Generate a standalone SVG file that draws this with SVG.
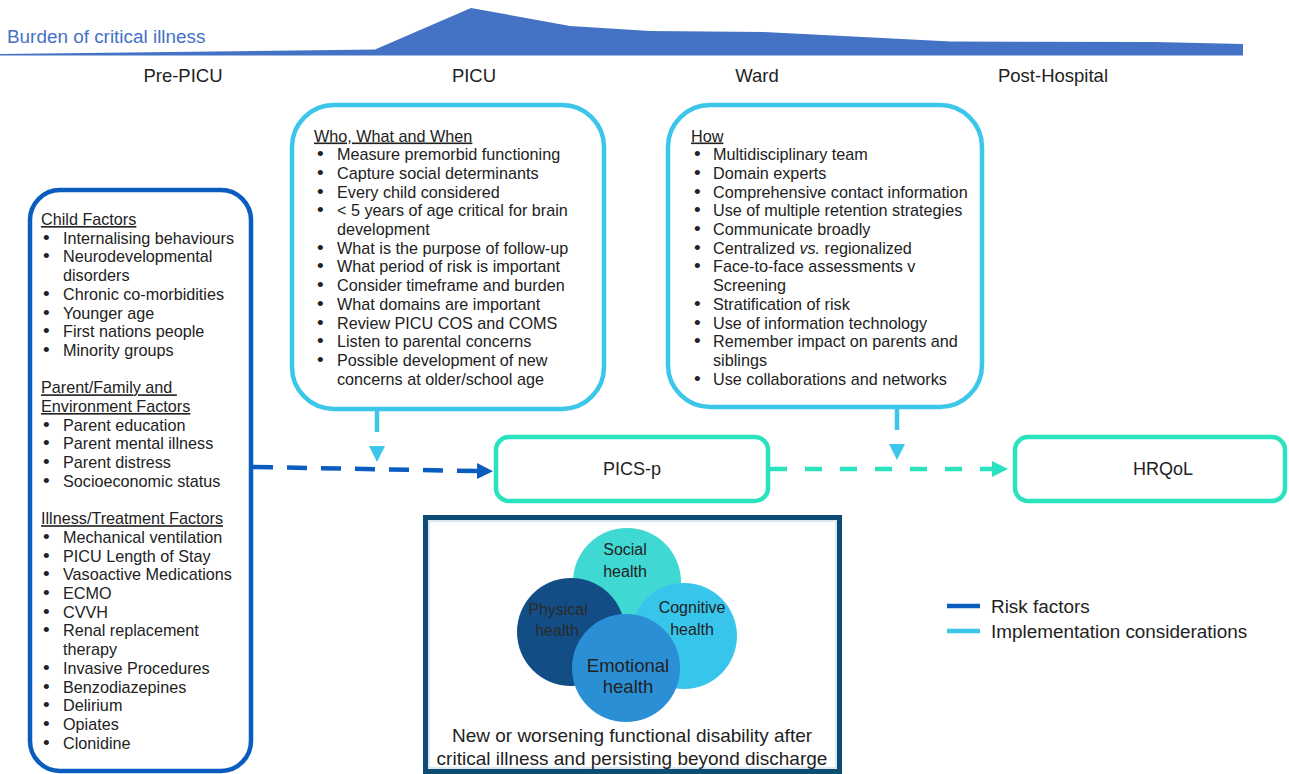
<svg xmlns="http://www.w3.org/2000/svg" width="1289" height="774" viewBox="0 0 1289 774">
  <style>
    text { font-family: "Liberation Sans", Arial, Helvetica, sans-serif; fill: #222; }
    .phase { font-size: 18.5px; text-anchor: middle; }
    .list { font-size: 16.2px; }
    .b { font-size: 19px; }
    .u { text-decoration: underline; }
    .risk { fill: none; stroke: #0B5CBF; stroke-width: 4.5; }
    .impl { fill: none; stroke: #3BC6EA; stroke-width: 4.5; }
    .out { fill: #fff; stroke: #2BE2BE; stroke-width: 4.5; }
    .label { font-size: 18px; text-anchor: middle; }
    .circ { font-size: 16px; text-anchor: middle; }
    .big { font-size: 18.5px; }
    .caption { font-size: 19px; text-anchor: middle; }
    .legend { font-size: 18.9px; }
  </style>
  <defs>
    <marker id="arrRisk" markerUnits="userSpaceOnUse" markerWidth="16" markerHeight="16" refX="0" refY="8" orient="auto">
      <path d="M0,0 L16,8 L0,16 z" fill="#0B5CBF"/>
    </marker>
    <marker id="arrOut" markerUnits="userSpaceOnUse" markerWidth="16" markerHeight="16" refX="0" refY="8" orient="auto">
      <path d="M0,0 L16,8 L0,16 z" fill="#2BE2BE"/>
    </marker>
  </defs>

  <rect width="1289" height="774" fill="#fff"/>

  <!-- burden of critical illness timeline -->
  <g id="burden">
    <path d="M0,54 L375,49.5 L471,8 L570,26 L650,31 L764,32 L951,41.5 L1154,42 L1243,44 L1243,55.5 L0,55.5 z" fill="#4472C4"/>
    <text x="7" y="43" style="font-size:18.9px;fill:#4472C4">Burden of critical illness</text>
    <text class="phase" x="183" y="82">Pre-PICU</text>
    <text class="phase" x="474" y="82">PICU</text>
    <text class="phase" x="757" y="82">Ward</text>
    <text class="phase" x="1053" y="82">Post-Hospital</text>
  </g>

  <!-- risk factors -->
  <g id="risk-factors">
    <rect class="risk" x="30" y="190" width="221" height="581" rx="30"/>
    <text class="list">
      <tspan x="41" y="225" class="u">Child Factors</tspan>
      <tspan x="43" y="243.7" class="b">•</tspan><tspan x="63" y="243.7">Internalising behaviours</tspan>
      <tspan x="43" y="262.4" class="b">•</tspan><tspan x="63" y="262.4">Neurodevelopmental</tspan>
      <tspan x="63" y="281.1">disorders</tspan>
      <tspan x="43" y="299.8" class="b">•</tspan><tspan x="63" y="299.8">Chronic co-morbidities</tspan>
      <tspan x="43" y="318.5" class="b">•</tspan><tspan x="63" y="318.5">Younger age</tspan>
      <tspan x="43" y="337.2" class="b">•</tspan><tspan x="63" y="337.2">First nations people</tspan>
      <tspan x="43" y="355.9" class="b">•</tspan><tspan x="63" y="355.9">Minority groups</tspan>
      <tspan x="41" y="393.3" class="u">Parent/Family and </tspan>
      <tspan x="41" y="412" class="u">Environment Factors</tspan>
      <tspan x="43" y="430.7" class="b">•</tspan><tspan x="63" y="430.7">Parent education</tspan>
      <tspan x="43" y="449.4" class="b">•</tspan><tspan x="63" y="449.4">Parent mental illness</tspan>
      <tspan x="43" y="468.1" class="b">•</tspan><tspan x="63" y="468.1">Parent distress</tspan>
      <tspan x="43" y="486.8" class="b">•</tspan><tspan x="63" y="486.8">Socioeconomic status</tspan>
      <tspan x="41" y="524.2" class="u">Illness/Treatment Factors</tspan>
      <tspan x="43" y="542.9" class="b">•</tspan><tspan x="63" y="542.9">Mechanical ventilation</tspan>
      <tspan x="43" y="561.6" class="b">•</tspan><tspan x="63" y="561.6">PICU Length of Stay</tspan>
      <tspan x="43" y="580.3" class="b">•</tspan><tspan x="63" y="580.3">Vasoactive Medications</tspan>
      <tspan x="43" y="599" class="b">•</tspan><tspan x="63" y="599">ECMO</tspan>
      <tspan x="43" y="617.7" class="b">•</tspan><tspan x="63" y="617.7">CVVH</tspan>
      <tspan x="43" y="636.4" class="b">•</tspan><tspan x="63" y="636.4">Renal replacement</tspan>
      <tspan x="63" y="655.1">therapy</tspan>
      <tspan x="43" y="673.8" class="b">•</tspan><tspan x="63" y="673.8">Invasive Procedures</tspan>
      <tspan x="43" y="692.5" class="b">•</tspan><tspan x="63" y="692.5">Benzodiazepines</tspan>
      <tspan x="43" y="711.2" class="b">•</tspan><tspan x="63" y="711.2">Delirium</tspan>
      <tspan x="43" y="729.9" class="b">•</tspan><tspan x="63" y="729.9">Opiates</tspan>
      <tspan x="43" y="748.6" class="b">•</tspan><tspan x="63" y="748.6">Clonidine</tspan>
    </text>
  </g>

  <!-- PICU implementation considerations -->
  <g id="picu-considerations">
    <rect class="impl" x="292" y="105" width="312" height="304" rx="42"/>
    <text class="list">
      <tspan x="314" y="141.5" class="u">Who, What and When</tspan>
      <tspan x="317" y="160.2" class="b">•</tspan><tspan x="337" y="160.2">Measure premorbid functioning</tspan>
      <tspan x="317" y="178.9" class="b">•</tspan><tspan x="337" y="178.9">Capture social determinants</tspan>
      <tspan x="317" y="197.6" class="b">•</tspan><tspan x="337" y="197.6">Every child considered</tspan>
      <tspan x="317" y="216.3" class="b">•</tspan><tspan x="337" y="216.3">&lt; 5 years of age critical for brain</tspan>
      <tspan x="337" y="235">development</tspan>
      <tspan x="317" y="253.7" class="b">•</tspan><tspan x="337" y="253.7">What is the purpose of follow-up</tspan>
      <tspan x="317" y="272.4" class="b">•</tspan><tspan x="337" y="272.4">What period of risk is important</tspan>
      <tspan x="317" y="291.1" class="b">•</tspan><tspan x="337" y="291.1">Consider timeframe and burden</tspan>
      <tspan x="317" y="309.8" class="b">•</tspan><tspan x="337" y="309.8">What domains are important</tspan>
      <tspan x="317" y="328.5" class="b">•</tspan><tspan x="337" y="328.5">Review PICU COS and COMS</tspan>
      <tspan x="317" y="347.2" class="b">•</tspan><tspan x="337" y="347.2">Listen to parental concerns</tspan>
      <tspan x="317" y="365.9" class="b">•</tspan><tspan x="337" y="365.9">Possible development of new</tspan>
      <tspan x="337" y="384.6">concerns at older/school age</tspan>
    </text>
  </g>

  <!-- Ward implementation considerations -->
  <g id="ward-considerations">
    <rect class="impl" x="668" y="105" width="314" height="302" rx="42"/>
    <text class="list">
      <tspan x="691" y="141.5" class="u">How</tspan>
      <tspan x="694" y="160.2" class="b">•</tspan><tspan x="713" y="160.2">Multidisciplinary team</tspan>
      <tspan x="694" y="178.9" class="b">•</tspan><tspan x="713" y="178.9">Domain experts</tspan>
      <tspan x="694" y="197.6" class="b">•</tspan><tspan x="713" y="197.6">Comprehensive contact information</tspan>
      <tspan x="694" y="216.3" class="b">•</tspan><tspan x="713" y="216.3">Use of multiple retention strategies</tspan>
      <tspan x="694" y="235" class="b">•</tspan><tspan x="713" y="235">Communicate broadly</tspan>
      <tspan x="694" y="253.7" class="b">•</tspan><tspan x="713" y="253.7">Centralized <tspan font-style="italic">vs.</tspan> regionalized</tspan>
      <tspan x="694" y="272.4" class="b">•</tspan><tspan x="713" y="272.4">Face-to-face assessments v</tspan>
      <tspan x="713" y="291.1">Screening</tspan>
      <tspan x="694" y="309.8" class="b">•</tspan><tspan x="713" y="309.8">Stratification of risk</tspan>
      <tspan x="694" y="328.5" class="b">•</tspan><tspan x="713" y="328.5">Use of information technology</tspan>
      <tspan x="694" y="347.2" class="b">•</tspan><tspan x="713" y="347.2">Remember impact on parents and</tspan>
      <tspan x="713" y="365.9">siblings</tspan>
      <tspan x="694" y="384.6" class="b">•</tspan><tspan x="713" y="384.6">Use collaborations and networks</tspan>
    </text>
  </g>

  <!-- outcome nodes -->
  <g id="pics-p">
    <rect class="out" x="496" y="437" width="272" height="64" rx="13"/>
    <text class="label" x="632" y="475">PICS-p</text>
  </g>
  <g id="hrqol">
    <rect class="out" x="1015" y="437" width="270" height="64" rx="13"/>
    <text class="label" x="1163" y="475">HRQoL</text>
  </g>

  <!-- connectors -->
  <g id="connectors">
    <line class="risk" x1="253" y1="467" x2="477" y2="471" stroke-dasharray="20 14" marker-end="url(#arrRisk)"/>
    <line x1="770" y1="469" x2="992" y2="469" stroke="#2BE2BE" stroke-width="4.5" stroke-dasharray="17 18" marker-end="url(#arrOut)"/>
    <line class="impl" x1="377" y1="409" x2="377" y2="432"/>
    <polygon points="369,446 385,446 377,462" fill="#3BC6EA"/>
    <line class="impl" x1="897" y1="407" x2="897" y2="430"/>
    <polygon points="889,444 905,444 897,460" fill="#3BC6EA"/>
  </g>

  <!-- PICS-p domains -->
  <g id="pics-domains">
    <rect x="425.5" y="517.5" width="414" height="254" fill="#fff" stroke="#0E4D73" stroke-width="5"/>
    <rect x="429" y="521" width="407" height="247" fill="none" stroke="#B9D0DE" stroke-width="1"/>
    <circle cx="627" cy="582" r="54" fill="#3FD8D3"/>
    <circle cx="571" cy="632" r="54" fill="#124E85"/>
    <circle cx="684" cy="636" r="53" fill="#37C5EC"/>
    <circle cx="626" cy="668" r="54" fill="#2B8FD6"/>
    <text class="circ" x="625" y="555">Social</text>
    <text class="circ" x="625" y="577">health</text>
    <text class="circ" x="558" y="615" style="fill:#2a2a2a">Physical</text>
    <text class="circ" x="557" y="636" style="fill:#2a2a2a">health</text>
    <text class="circ" x="692" y="613">Cognitive</text>
    <text class="circ" x="692" y="635">health</text>
    <text class="circ big" x="628" y="672">Emotional</text>
    <text class="circ big" x="628" y="693">health</text>
    <text class="caption" x="632" y="742">New or worsening functional disability after</text>
    <text class="caption" x="632" y="765">critical illness and persisting beyond discharge</text>
  </g>

  <!-- legend -->
  <g id="legend">
    <line x1="947" y1="606" x2="980" y2="606" stroke="#0B5CBF" stroke-width="4.5"/>
    <text class="legend" x="991" y="612.5">Risk factors</text>
    <line x1="947" y1="631" x2="980" y2="631" stroke="#3BC6EA" stroke-width="4.5"/>
    <text class="legend" x="991" y="637.5">Implementation considerations</text>
  </g>
</svg>
